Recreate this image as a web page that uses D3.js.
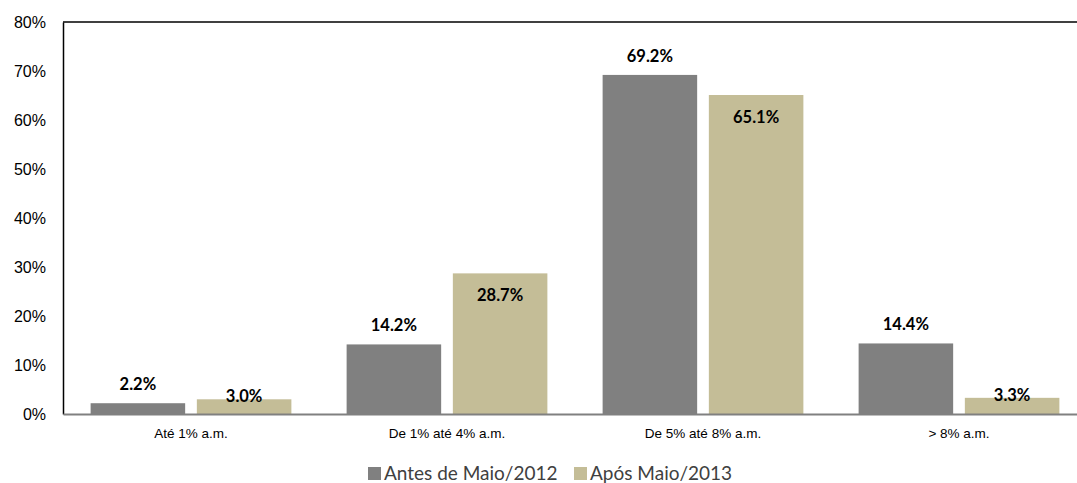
<!DOCTYPE html>
<html><head><meta charset="utf-8">
<script src="https://cdn.jsdelivr.net/npm/d3@7"></script>
<style>body{margin:0;background:#fff}svg{display:block}</style>
</head><body>
<svg id="c" width="1077" height="483"></svg>
<script>
const categories = ["Até 1% a.m.", "De 1% até 4% a.m.", "De 5% até 8% a.m.", "> 8% a.m."];
const seriesNames = ["Antes de Maio/2012", "Após Maio/2013"];
const antes = [2.2, 14.2, 69.2, 14.4];
const apos = [3.0, 28.7, 65.1, 3.3];
const yTicks = [0, 10, 20, 30, 40, 50, 60, 70, 80];
const colors = ["#808080", "#C4BD97"];

const svg = d3.select("#c");
const pLeft = 63, pRight = 1087, pTop = 22, pBottom = 414;
const x = d3.scaleBand().domain(categories).range([pLeft, pRight]).paddingInner(0).paddingOuter(0);
const x1 = d3.scaleBand().domain(seriesNames).range([0, x.bandwidth()]).paddingInner(0.11).paddingOuter(0.26);
const y = d3.scaleLinear().domain([0, 80]).range([pBottom, pTop]);

// top border
svg.append("line").attr("x1", pLeft).attr("x2", 1077).attr("y1", pTop).attr("y2", pTop)
  .attr("stroke", "#404040").attr("stroke-width", 2);

const data = categories.map((c, i) => ({c, vals: [antes[i], apos[i]]}));
const g = svg.selectAll("g.cat").data(data).join("g").attr("class", "cat").attr("transform", d => `translate(${x(d.c)},0)`);
g.selectAll("rect").data(d => d.vals.map((v, j) => ({v, s: seriesNames[j], j}))).join("rect")
  .attr("x", d => x1(d.s)).attr("width", x1.bandwidth())
  .attr("y", d => y(d.v)).attr("height", d => y(0) - y(d.v))
  .attr("fill", d => colors[d.j]);
g.selectAll("text.lbl").data(d => d.vals.map((v, j) => ({v, s: seriesNames[j], j}))).join("text")
  .attr("class", "lbl")
  .attr("x", d => x1(d.s) + x1.bandwidth() / 2)
  .attr("y", d => {
    const t = y(d.v);
    if (d.j === 0) return t - 19;
    return (y(0) - t) > 40 ? t + 22 : t - 3;
  })
  .attr("dy", "0.35em").attr("text-anchor", "middle")
  .attr("font-family", "Lato, 'Open Sans', sans-serif").attr("font-weight", "bold").attr("font-size", 16.5)
  .attr("fill", "#000").text(d => d.v.toFixed(1) + "%");

// y axis
const yAxis = svg.append("g").attr("transform", `translate(${pLeft},0)`)
  .call(d3.axisLeft(y).tickValues(yTicks).tickSize(0).tickPadding(17).tickFormat(d => d + "%"));
yAxis.select(".domain").attr("stroke", "#000").attr("stroke-width", 1.5);
yAxis.selectAll("text").attr("font-family", "Liberation Sans, Arial, sans-serif").attr("font-size", 16).attr("fill", "#000");

// x axis
const xAxis = svg.append("g").attr("transform", `translate(0,${pBottom})`)
  .call(d3.axisBottom(x).tickSize(0).tickPadding(14));
xAxis.select(".domain").attr("stroke", "#808080").attr("stroke-width", 2);
xAxis.selectAll("text").attr("font-family", "Liberation Sans, Arial, sans-serif").attr("font-size", 13.5).attr("fill", "#000");

// legend
const legX = [368, 574];
const leg = svg.selectAll("g.leg").data(seriesNames).join("g").attr("class", "leg")
  .attr("transform", (d, i) => `translate(${legX[i]},473)`);
leg.append("rect").attr("x", 0).attr("y", -6).attr("width", 13).attr("height", 13).attr("fill", (d, i) => colors[i]);
leg.append("text").attr("x", 16).attr("dy", "0.35em")
  .attr("font-family", "Lato, 'Open Sans', sans-serif").attr("font-size", 19).attr("fill", "#404040").text(d => d);
</script>
</body></html>
